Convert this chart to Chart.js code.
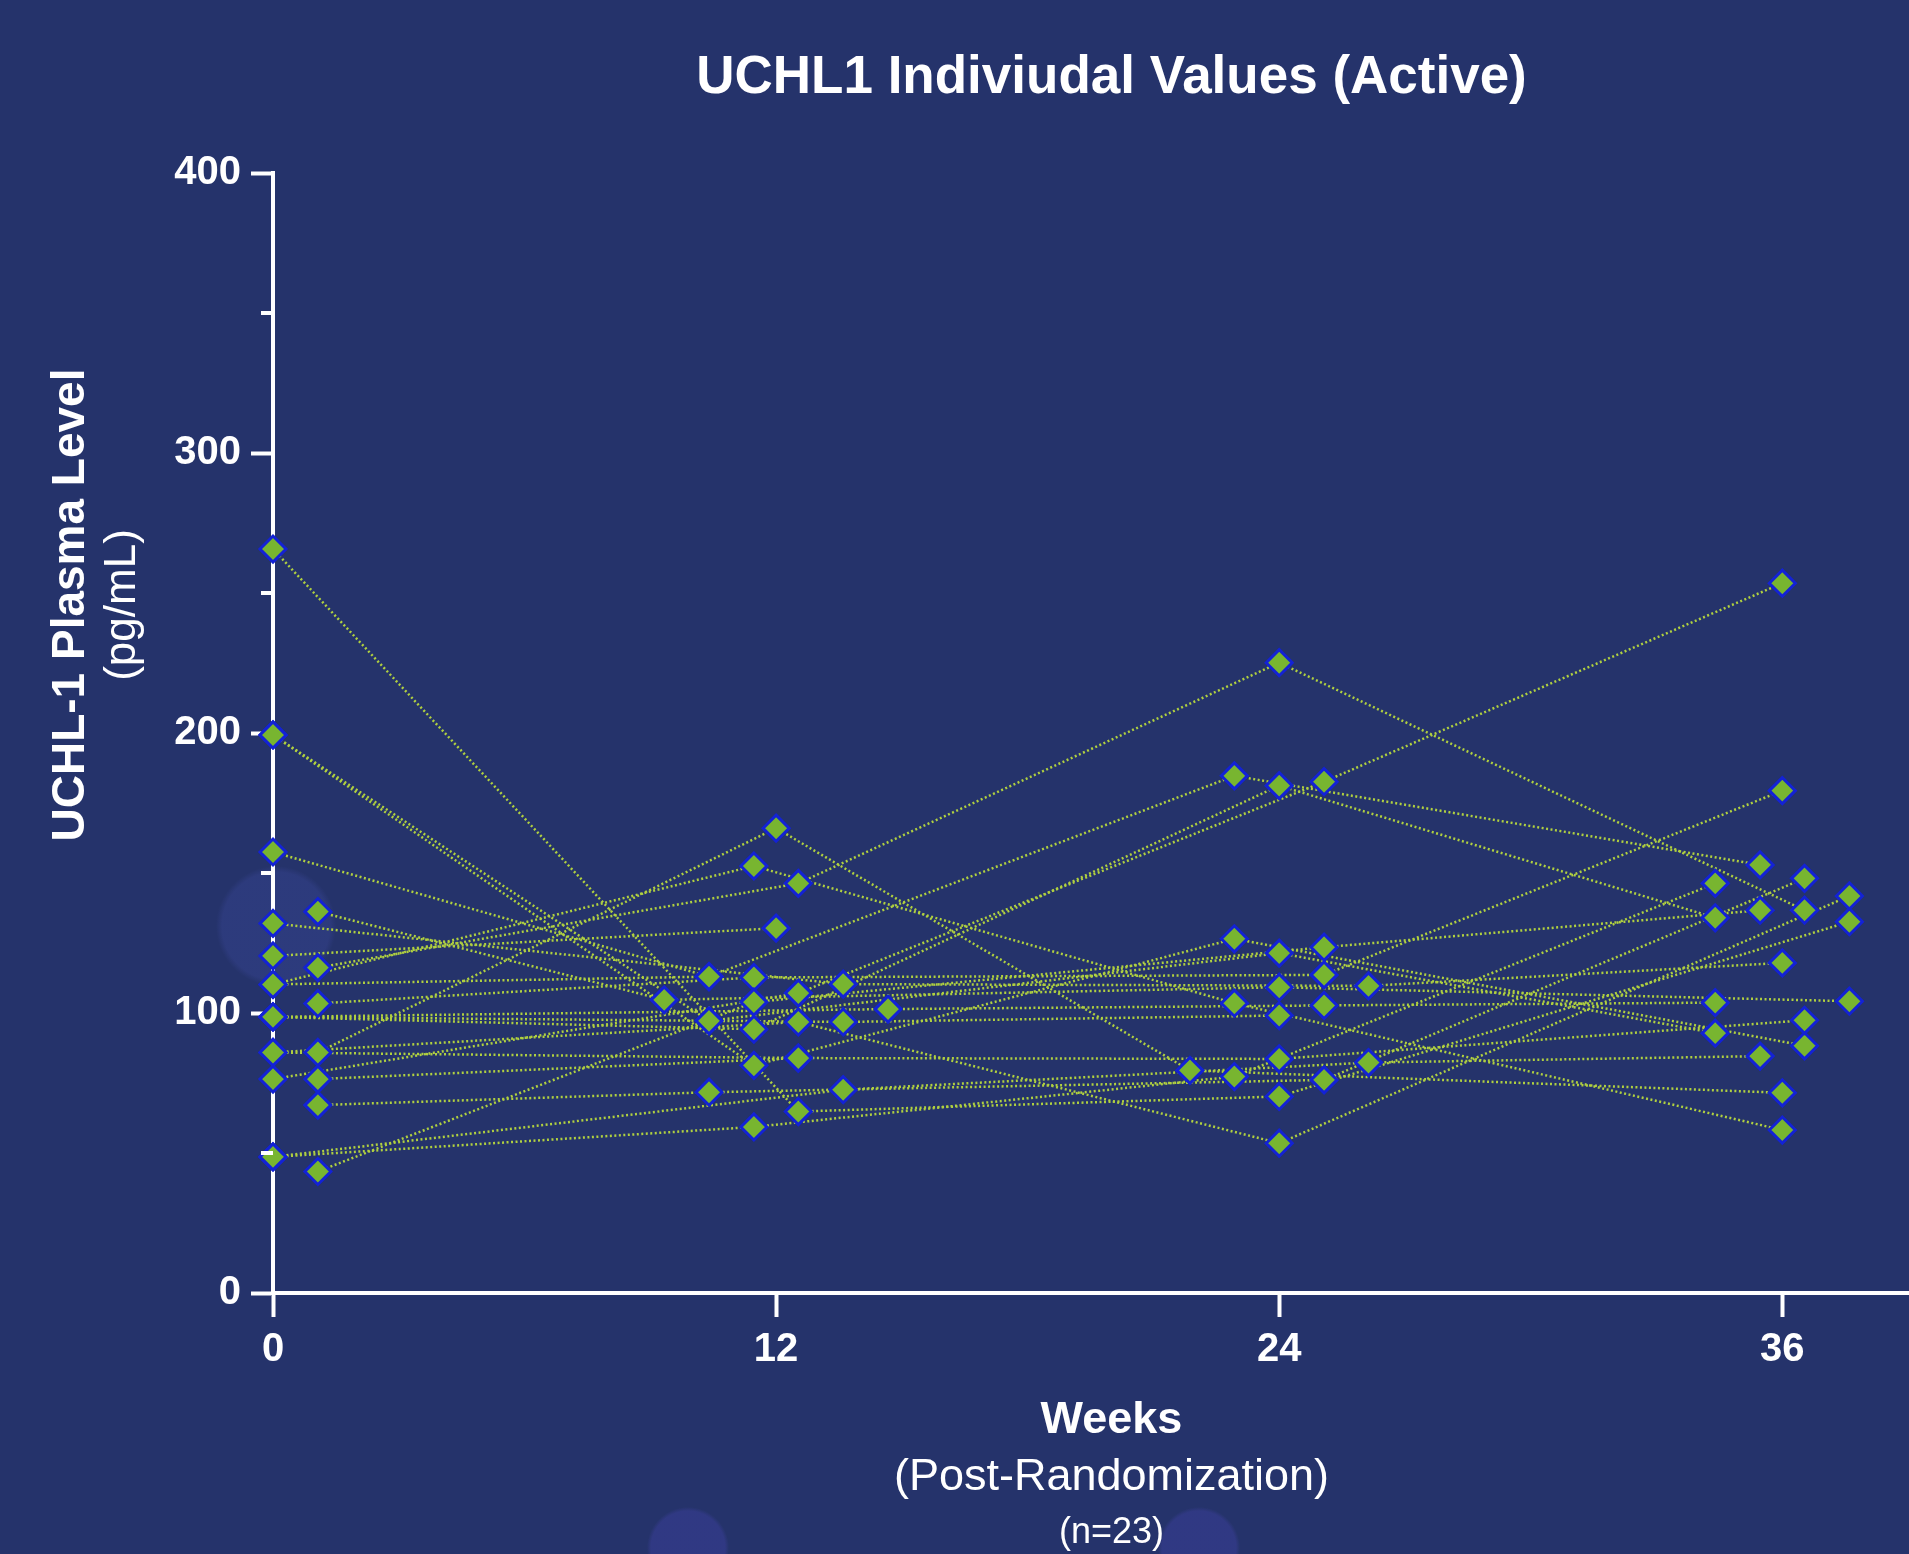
<!DOCTYPE html>
<html lang="en">
<head>
    <meta charset="UTF-8">
    <title>UCHL1 Indiviudal Values (Active)</title>
    <style>
        html, body {
            margin: 0;
            padding: 0;
            overflow: hidden;
        }
        body {
            width: 1909px;
            height: 1554px;
            /* faint decorative circles of the slide background */
            background:
                radial-gradient(circle at 276px 926px, rgba(62, 74, 160, 0.32) 0, rgba(62, 74, 160, 0.32) 54px, rgba(62, 74, 160, 0) 60px),
                radial-gradient(circle at 688px 1548px, rgba(62, 64, 160, 0.45) 0, rgba(62, 64, 160, 0.45) 37px, rgba(62, 64, 160, 0) 41px),
                radial-gradient(circle at 1199px 1548px, rgba(62, 64, 160, 0.45) 0, rgba(62, 64, 160, 0.45) 37px, rgba(62, 64, 160, 0) 41px),
                #25336b;
        }
        #chartBox {
            position: absolute;
            left: 0;
            top: 0;
        }
    </style>
    <script src="https://cdn.jsdelivr.net/npm/chart.js"></script>
</head>
<body>
    <!-- canvas is a bit wider than the window: the x axis runs on past the right edge -->
    <canvas id="chartBox" width="1966" height="1554"></canvas>
    <script>
        // axis ticks
        const weekTicks = [0, 12, 24, 36];
        const levelTicks = [0, 100, 200, 300, 400];
        const minorLevelTicks = [50, 150, 250, 350];

        // one entry per subject (n=23); x = week (jittered), null = no sample
        const week0X   = [0, 0, 0, 0, 1.07, 0, 0, 1.07, 1.07, 0, 0, 0, 1.07, 1.07, 0, 0, 0, 1.07, 1.07, 0, 0, 0, 0];
        const week0Val = [265.7, 199.3, 199.3, 157.5, 136.2, 120.4, 110.2, 116.2, 85.9, 98.6, 76.4, 132.0,
                          103.4, 43.4, 98.6, 48.6, 48.6, 67.1, 76.4, 85.9, 98.6, 110.2, 85.9];

        const week12X   = [12.53, 10.4, 11.47, 10.4, 9.33, 12, 11.47, 12.53, 12, 11.47, 12.53, 13.6,
                           11.47, 11.47, 14.67, 13.6, 11.47, 10.4, 12.53, 12.53, 13.6, 10.4, 12.53];
        const week12Val = [64.8, 97.2, 81.3, 113.0, 104.7, 130.3, 152.5, 146.3, 166.0, 94.2, 107.1, 110.3,
                           112.7, 103.9, 101.4, 72.6, 59.3, 71.7, 83.9, 96.8, 96.8, 113.0, 83.9];

        const week24X   = [24, 24, 22.93, 22.93, 24, null, 22.93, 24, 21.87, 24, 25.07, 26.13,
                           25.07, 25.07, 25.07, 26.13, 22.93, 25.07, 24, 24, 24, null, null];
        const week24Val = [70.2, 121.4, 126.5, 184.7, 109.2, null, 103.5, 225.1, 79.5, 181.2, 182.6, 109.7,
                           113.6, 123.5, 102.7, 82.3, 77.3, 76.1, 83.6, 53.5, 99.1, null, null];

        const week36X   = [37.6, 34.4, 36.53, 35.47, 37.6, null, 36, 36.53, 36, 34.4, 36, 36,
                           36, 35.47, 34.4, 35.47, 34.4, 36.53, 36.53, 37.6, null, null, null];
        const week36Val = [132.6, 92.8, 88.3, 152.9, 104.2, null, 58.2, 136.7, 71.5, 134.0, 253.5, 117.9,
                           179.4, 136.7, 103.7, 84.6, 146.3, 148.1, 97.4, 141.8, null, null, null];

        const fontFamily = '"Liberation Sans", Arial, Helvetica, sans-serif';
        const lineColor = '#b0d040';

        // one dotted line per subject
        const visits = [[week0X, week0Val], [week12X, week12Val], [week24X, week24Val], [week36X, week36Val]];
        const subjectSets = week0Val.map((_, i) => {
            const pts = [];
            visits.forEach(([xs, ys]) => {
                if (ys[i] !== null) pts.push({ x: xs[i], y: ys[i] });
            });
            return {
                label: 'Subject ' + (i + 1),
                data: pts,
                showLine: true,
                pointRadius: 0,
                borderColor: lineColor,
                borderWidth: 2.5,
                borderDash: [2, 2.5],
                fill: false,
                clip: false,
                order: 1
            };
        });

        // all markers in one set so they sit on top of every line
        const markerSet = {
            label: 'Individual values',
            data: subjectSets.flatMap(d => d.data),
            showLine: false,
            pointStyle: 'rectRot',
            pointRadius: 13,
            pointBackgroundColor: '#78b530',
            pointBorderColor: '#1322d6',
            pointBorderWidth: 3,
            clip: false,
            order: 0
        };

        // titles and the short minor ticks of the y axis
        const labelPlugin = {
            id: 'slideLabels',
            afterDraw(chart) {
                const { ctx, chartArea } = chart;
                const cx = (chartArea.left + chartArea.right) / 2;
                ctx.save();
                ctx.fillStyle = '#ffffff';

                const yScale = chart.scales.y;
                minorLevelTicks.forEach(v => {
                    const py = yScale.getPixelForValue(v);
                    ctx.fillRect(chartArea.left - 12, py - 2, 12, 4);
                });

                ctx.textAlign = 'center';
                ctx.textBaseline = 'alphabetic';
                ctx.font = 'bold 53px ' + fontFamily;
                ctx.fillText('UCHL1 Indiviudal Values (Active)', cx, 93);

                ctx.font = 'bold 45px ' + fontFamily;
                ctx.fillText('Weeks', cx, 1433);
                ctx.font = '45px ' + fontFamily;
                ctx.fillText('(Post-Randomization)', cx, 1490);
                ctx.font = '36px ' + fontFamily;
                ctx.fillText('(n=23)', cx, 1543);

                ctx.translate(0, 605);
                ctx.rotate(-Math.PI / 2);
                ctx.font = 'bold 46px ' + fontFamily;
                ctx.fillText('UCHL-1 Plasma Level', 0, 84);
                ctx.font = '44px ' + fontFamily;
                ctx.fillText('(pg/mL)', 0, 135);
                ctx.restore();
            }
        };

        const ctx = document.getElementById('chartBox').getContext('2d');
        const myChart = new Chart(ctx, {
            type: 'scatter',
            data: {
                datasets: [markerSet, ...subjectSets]
            },
            options: {
                responsive: false,
                animation: false,
                layout: {
                    padding: { top: 173, left: 0, right: 0, bottom: 0 }
                },
                plugins: {
                    legend: { display: false },
                    tooltip: { enabled: false }
                },
                scales: {
                    x: {
                        type: 'linear',
                        min: 0,
                        max: 40,
                        afterBuildTicks: scale => {
                            scale.ticks = weekTicks.map(v => ({ value: v }));
                        },
                        afterFit: scale => {
                            scale.height = 261;
                        },
                        grid: {
                            drawOnChartArea: false,
                            tickLength: 24,
                            tickWidth: 4,
                            tickColor: '#ffffff'
                        },
                        border: { color: '#ffffff', width: 4 },
                        ticks: {
                            color: '#ffffff',
                            padding: 9,
                            font: { family: fontFamily, size: 40, weight: 'bold' }
                        }
                    },
                    y: {
                        min: 0,
                        max: 400,
                        afterBuildTicks: scale => {
                            scale.ticks = levelTicks.map(v => ({ value: v }));
                        },
                        afterFit: scale => {
                            scale.width = 273;
                        },
                        grid: {
                            drawOnChartArea: false,
                            tickLength: 22,
                            tickWidth: 4,
                            tickColor: '#ffffff'
                        },
                        border: { color: '#ffffff', width: 4 },
                        ticks: {
                            color: '#ffffff',
                            padding: 10,
                            font: { family: fontFamily, size: 40, weight: 'bold' }
                        }
                    }
                }
            },
            plugins: [labelPlugin]
        });
    </script>
</body>
</html>
